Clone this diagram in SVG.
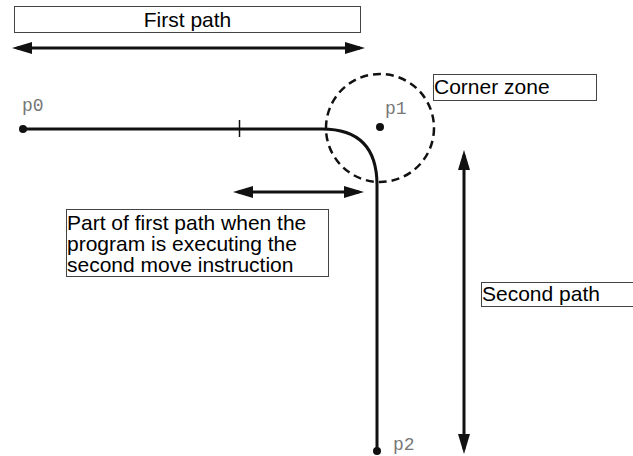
<svg xmlns="http://www.w3.org/2000/svg" width="633" height="456" viewBox="0 0 633 456">
<style>
.box{fill:#fff;stroke:#444;stroke-width:1}
.t{font-family:"Liberation Sans",Arial,sans-serif;font-size:21px;fill:#000}
.lbl{font-family:"Liberation Mono","Courier New",monospace;font-size:18px;fill:#777}
.path{fill:none;stroke:#111;stroke-width:3}
.arr{fill:none;stroke:#111;stroke-width:3;marker-start:url(#ah);marker-end:url(#ah)}
</style>
<defs>
<marker id="ah" markerWidth="20" markerHeight="12" refX="15" refY="6" orient="auto-start-reverse" markerUnits="userSpaceOnUse">
<path d="M0,0 L20,6 L0,12 z" fill="#111"/>
</marker>
</defs>
<rect width="633" height="456" fill="#fff"/>
<g id="first-path-label">
<rect class="box" x="14.5" y="6.5" width="346" height="26"/>
<text class="t" x="187.5" y="27" text-anchor="middle">First path</text>
</g>
<g id="corner-zone-label">
<rect class="box" x="433.5" y="74.5" width="163" height="26"/>
<text class="t" x="434" y="94">Corner zone</text>
</g>
<g id="part-label">
<rect class="box" x="66.5" y="209.5" width="262" height="67"/>
<text class="t" x="67" y="230">Part of first path when the</text>
<text class="t" x="67" y="251">program is executing the</text>
<text class="t" x="67" y="272">second move instruction</text>
</g>
<g id="second-path-label">
<rect class="box" x="481.5" y="282.5" width="160" height="24"/>
<text class="t" x="482" y="301">Second path</text>
</g>
<g id="corner-zone">
<circle cx="380" cy="128" r="54" fill="none" stroke="#111" stroke-width="2.5" stroke-dasharray="8,5"/>
</g>
<g id="p0">
<circle cx="23" cy="129" r="4" fill="#111"/>
<text class="lbl" x="22" y="111">p0</text>
</g>
<g id="p1">
<circle cx="380" cy="127" r="4" fill="#111"/>
<text class="lbl" x="385" y="114">p1</text>
</g>
<g id="p2">
<circle cx="377" cy="451" r="4" fill="#111"/>
<text class="lbl" x="393" y="450">p2</text>
</g>
<g id="connectors">
<path class="path" d="M23,129 L322,129 Q377,129 377,185 L377,451"/>
<line x1="239.5" y1="120" x2="239.5" y2="137" stroke="#111" stroke-width="1.5"/>
<line class="arr" x1="17" y1="48" x2="360" y2="48"/>
<line class="arr" x1="238" y1="192" x2="359" y2="192"/>
<line class="arr" x1="464" y1="155" x2="464" y2="449"/>
</g>
</svg>
